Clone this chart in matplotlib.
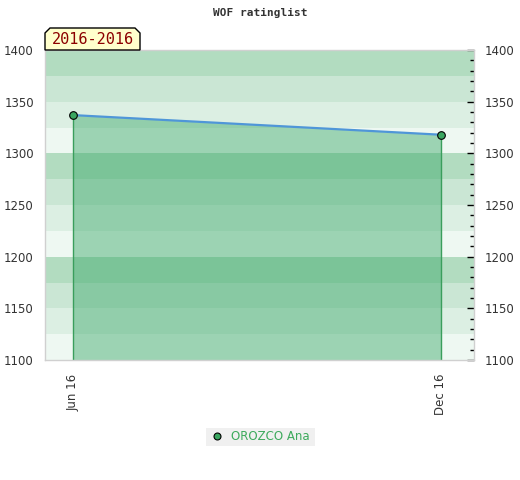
import matplotlib
matplotlib.use("Agg")
import matplotlib.pyplot as plt
import matplotlib.dates as mdates
from matplotlib.patches import Polygon, Rectangle
from matplotlib.ticker import MultipleLocator
import datetime as dt

title = "WOF ratinglist"
period_label = "2016-2016"
player = "OROZCO Ana"
dates = ["2016-06-01", "2016-12-01"]
ratings = [1337, 1318]
y_min, y_max = 1100, 1400
band_colors = ["#eef8f2", "#dcefe3", "#cae6d4", "#b2dcc0"]

W, H = 520, 480
fig = plt.figure(figsize=(W / 100, H / 100), dpi=100)
fig.patch.set_facecolor("white")

L, R, T, B = 45, 474, 50, 360
ax = fig.add_axes([L / W, 1 - B / H, (R - L) / W, (B - T) / H])

x = [mdates.date2num(dt.datetime.strptime(d, "%Y-%m-%d")) for d in dates]
px_per_day = (441 - 73) / (x[1] - x[0])
ax.set_xlim(x[0] - (73 - L) / px_per_day, x[1] + (R - 441) / px_per_day)
ax.set_ylim(y_min, y_max)

# background bands
for i in range(int((y_max - y_min) / 25)):
    ax.axhspan(y_min + 25 * i, y_min + 25 * (i + 1), color=band_colors[i % 4], lw=0, zorder=0)

ax.fill_between(x, ratings, y_min, color="#38a768", alpha=0.45, lw=0, zorder=1)
for xi, yi in zip(x, ratings):
    ax.plot([xi, xi], [y_min, yi], color="#3a9e5c", lw=1, zorder=2)
ax.plot(x, ratings, color="#4f96d8", lw=1.6, zorder=3, solid_capstyle="round")
ax.plot(x, ratings, "o", ms=5.5, mfc="#3aa660", mec="black", mew=0.8, zorder=4)

for s in ax.spines.values():
    s.set_color("#d0d0d0")
    s.set_linewidth(1)

ax.set_xticks(x)
ax.xaxis.set_major_formatter(mdates.DateFormatter("%b %y"))
ax.tick_params(axis="x", length=0, rotation=90, labelsize=8.5, labelcolor="#333333", pad=10)

ax.yaxis.set_major_locator(MultipleLocator(50))
ax.yaxis.set_minor_locator(MultipleLocator(10))
ax.tick_params(axis="y", which="both", left=False, right=True, labelleft=True, labelright=True,
               direction="in", color="black", labelsize=8.5, labelcolor="#333333")
ax.tick_params(axis="y", which="major", length=5, width=1, pad=8)
ax.tick_params(axis="y", which="minor", length=3, width=1)

# overlay for decorations in pixel coordinates
ov = fig.add_axes([0, 0, 1, 1], zorder=10)
ov.set_xlim(0, W)
ov.set_ylim(H, 0)
ov.axis("off")
ov.patch.set_alpha(0)

ov.text(260, 13, title, ha="center", va="center", fontsize=8, fontweight="bold",
        family="DejaVu Sans Mono", color="#333333")

box = Polygon([(45, 50), (45, 33), (50, 28), (135, 28), (140, 33), (140, 50)],
              closed=True, facecolor="#ffffcc", edgecolor="black", lw=1)
ov.add_patch(box)
ov.text(92.5, 40, period_label, ha="center", va="center", fontsize=11,
        family="DejaVu Sans Mono", color="#8b0000")

ov.add_patch(Rectangle((206, 428), 109, 18, facecolor="#f0f0f0", edgecolor="none"))
ov.plot([217], [436], "o", ms=5, mfc="#3aa660", mec="black", mew=0.8)
ov.text(231, 436.5, player, ha="left", va="center", fontsize=8.5, color="#3daa5c")

fig.savefig("out.png", dpi=100)
